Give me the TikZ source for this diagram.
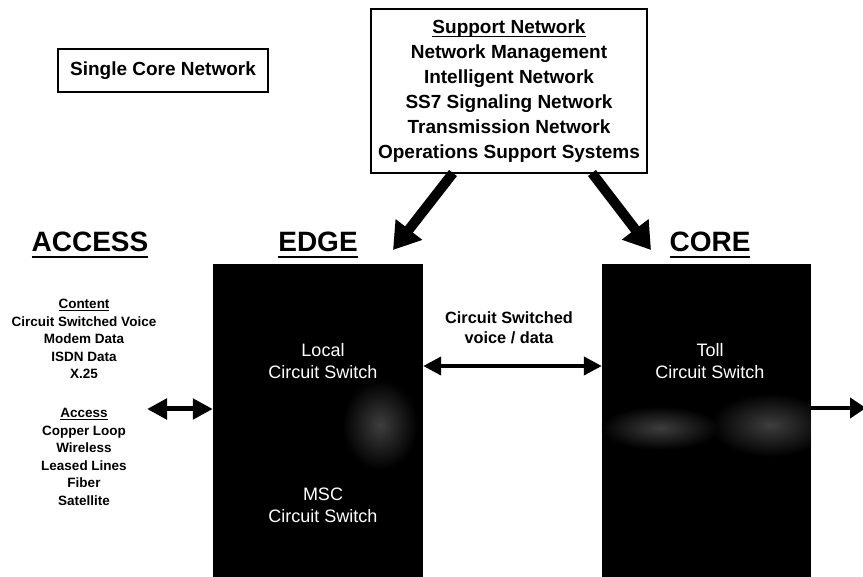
\documentclass[tikz,border=0pt]{standalone}
\usepackage{fontspec}
\setmainfont{Liberation Sans}
\usetikzlibrary{arrows.meta}
\newcommand\myul[1]{\leavevmode\begingroup\setbox0\hbox{#1}\rlap{\rule[-0.2em]{\wd0}{0.07em}}\box0\endgroup}
\begin{document}
\begin{tikzpicture}[x=1pt,y=-1pt,
  heading/.style={font=\fontsize{28}{30}\selectfont\bfseries, anchor=base, inner sep=0pt},
  framebox/.style={draw=black, line width=1.3pt, inner sep=0pt, align=center},
  blackbox/.style={fill=black, draw=none, inner sep=0pt},
  whitetext/.style={text=white, align=center, font=\fontsize{18}{22}\selectfont, inner sep=0pt},
  smalltext/.style={align=center, font=\fontsize{13.5}{17.6}\selectfont\bfseries, inner sep=0pt},
  thickarrow/.style={line width=10pt, -{Triangle[length=26pt,width=32pt]}},
  dblarrow/.style={line width=4pt, {Triangle[length=18pt,width=18pt]}-{Triangle[length=18pt,width=18pt]}},
  sglarrow/.style={line width=4pt, -{Triangle[length=16pt,width=20pt]}}
]
\useasboundingbox (0,0) rectangle (863,577);
\fill[white] (0,0) rectangle (863,577);

% title box
\node[framebox, minimum width=210pt, minimum height=43pt,
      font=\fontsize{19}{22}\selectfont\bfseries] (title) at (163,70.5) {Single Core Network};

% support network box
\node[framebox, minimum width=276pt, minimum height=164pt,
      font=\fontsize{19}{25}\selectfont\bfseries] (sup) at (509,91)
  {\myul{Support Network}\\Network Management\\Intelligent Network\\SS7 Signaling Network\\Transmission Network\\Operations Support Systems};

% headings
\node[heading] (hacc) at (90,252) {\myul{ACCESS}};
\node[heading] (hedge) at (318,252) {\myul{EDGE}};
\node[heading] (hcore) at (710,252) {\myul{CORE}};

% black boxes
\node[blackbox, minimum width=210pt, minimum height=313pt] (edge) at (318,420.5) {};
\node[blackbox, minimum width=209pt, minimum height=313pt] (core) at (706.5,420.5) {};
\begin{scope}
  \clip (edge.south west) rectangle (edge.north east);
  \shade[inner color=black!30, outer color=black, opacity=0.35] (380,425) ellipse [x radius=38pt, y radius=45pt];
\end{scope}
\begin{scope}
  \clip (core.south west) rectangle (core.north east);
  \shade[inner color=black!30, outer color=black, opacity=0.35] (770,425) ellipse [x radius=60pt, y radius=32pt];
  \shade[inner color=black!20, outer color=black, opacity=0.3] (660,428) ellipse [x radius=60pt, y radius=22pt];
\end{scope}

% text inside boxes
\node[whitetext] (local) at (323,361) {Local\\Circuit Switch};
\node[whitetext] (msc) at (323,505.5) {MSC\\Circuit Switch};
\node[whitetext] (toll) at (710,361) {Toll\\Circuit Switch};

% access texts
\node[smalltext] (content) at (84,339) {\myul{Content}\\Circuit Switched Voice\\Modem Data\\ISDN Data\\X.25};
\node[smalltext] (access) at (84,457) {\myul{Access}\\Copper Loop\\Wireless\\Leased Lines\\Fiber\\Satellite};

% middle label
\node[align=center, font=\fontsize{16.3}{20}\selectfont\bfseries, inner sep=0pt] (csv) at (509,328) {Circuit Switched\\voice / data};

% coordinates
\coordinate (s1) at (453,173);
\coordinate (t1) at (393,250);
\coordinate (s2) at (592,173);
\coordinate (t2) at (651,250);
\coordinate (m1) at (0,366);
\coordinate (la) at (147,409);
\coordinate (ra) at (0,408);
\coordinate (rend) at (866,408);

% connectors
\draw[thickarrow] (s1) -- (t1);
\draw[thickarrow] (s2) -- (t2);
\draw[dblarrow] (edge.east |- m1) -- (core.west |- m1);
\draw[line width=5pt, {Triangle[length=20pt,width=20pt]}-{Triangle[length=20pt,width=20pt]}] (la) -- (edge.west |- la);
\draw[sglarrow] (core.east |- ra) -- (rend);
\end{tikzpicture}
\end{document}
